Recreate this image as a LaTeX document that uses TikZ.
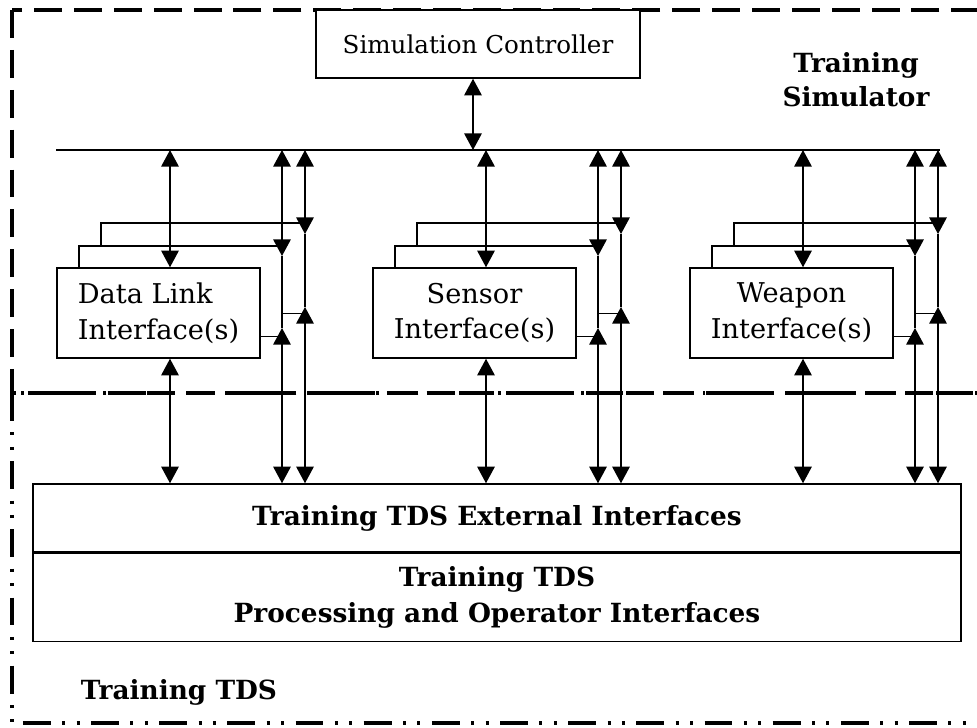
\documentclass[tikz,border=0pt]{standalone}
\usepackage{fontspec}
\setmainfont{DejaVu Serif}
\usetikzlibrary{arrows.meta,calc}
\newcommand\pxl{0.02cm}
\begin{document}
\begin{tikzpicture}[x=0.02cm,y=-0.02cm,
  ln/.style={line width=0.85pt},
  dbl/.style={ln,{Triangle[length=9.5pt,width=10pt]}-{Triangle[length=9.5pt,width=10pt]}},
  box/.style={ln,draw,fill=white,inner sep=0pt,font=\fontsize{15.5}{20.4}\selectfont},
  boldtxt/.style={font=\fontsize{15}{20.4}\selectfont\bfseries},
  lbl/.style={inner sep=0pt,align=center,font=\fontsize{15}{19.5}\selectfont\bfseries},
  simbound/.style={line width=2.2pt,dash pattern=on 15.9pt off 6.8pt},
  tdsbound/.style={line width=2.2pt,dash pattern=on 15.9pt off 6.5pt on 1.7pt off 6.5pt on 1.7pt off 6.5pt}]
\useasboundingbox (0,0) rectangle (977,727);
% boundaries
\begin{scope}
  \clip (0,0) rectangle (977,727);
  \draw[tdsbound] (12,393) rectangle (1010,723);
  \draw[simbound] (12,10) rectangle (1010,393);
\end{scope}
% simulation controller and bus
\node[box,minimum width=324*\pxl,minimum height=68*\pxl,font=\fontsize{14}{20.4}\selectfont] (ctrl) at (478,44) {Simulation Controller};
\coordinate (busL) at (56,150);
\coordinate (busR) at (940,150);
\draw[ln] (busL) -- (busR);
\coordinate (ca) at (473,0);
\draw[dbl] (ctrl.south -| ca) -- (ca |- busL);
% TDS boxes
\node[box,boldtxt,minimum width=928*\pxl,minimum height=68*\pxl] (ext) at (497,518) {Training TDS External Interfaces};
\node[box,boldtxt,minimum width=928*\pxl,minimum height=88*\pxl,anchor=north,align=center] (proc) at (ext.south) {Training TDS\\Processing and Operator Interfaces};
% interface groups
\foreach \dx/\nm/\al/\txt in {0/dl/left/{Data Link\\Interface(s)},316/se/center/{Sensor\\Interface(s)},633/we/center/{Weapon\\Interface(s)}}{
  \begin{scope}[xshift=\dx*\pxl]
    \node[box,minimum width=203*\pxl,minimum height=90*\pxl,align=\al] (\nm) at (158.5,313) {\txt};
    \draw[ln] (79,268) |- (282,246);
    \draw[ln] (101,246) |- (305,223);
    \coordinate (\nm-m) at (170,0);
    \coordinate (\nm-v1) at (282,0);
    \coordinate (\nm-v2) at (305,0);
    \coordinate (\nm-j1) at (0,256);
    \coordinate (\nm-j2) at (0,328);
    \coordinate (\nm-k1) at (0,234);
    \coordinate (\nm-k2) at (0,307);
  \end{scope}
  \draw[dbl] (\nm-m |- busL) -- (\nm-m |- \nm.north);
  \draw[dbl] (\nm-m |- \nm.south) -- (\nm-m |- ext.north);
  % first side line
  \draw[dbl] (\nm-v1 |- busL) -- (\nm-v1 |- \nm-j1);
  \draw[ln] (\nm-v1 |- \nm-j1) -- (\nm-v1 |- \nm-j2);
  \draw[dbl] (\nm-v1 |- \nm-j2) -- (\nm-v1 |- ext.north);
  % second side line
  \draw[dbl] (\nm-v2 |- busL) -- (\nm-v2 |- \nm-k1);
  \draw[ln] (\nm-v2 |- \nm-k1) -- (\nm-v2 |- \nm-k2);
  \draw[dbl] (\nm-v2 |- \nm-k2) -- (\nm-v2 |- ext.north);
  % side connections
  \draw[ln] ($(\nm.south east)+(0,-22)$) -- ($(\nm-v1 |- \nm.south)+(0,-22)$);
  \draw[ln] ($(\nm-v1 |- \nm.south)+(0,-45)$) -- ($(\nm-v2 |- \nm.south)+(0,-45)$);
}
% region labels
\node[lbl] (tsim) at (856,80) {Training\\Simulator};
\node[lbl] (ttds) at (179,692) {Training TDS};
\end{tikzpicture}
\end{document}
